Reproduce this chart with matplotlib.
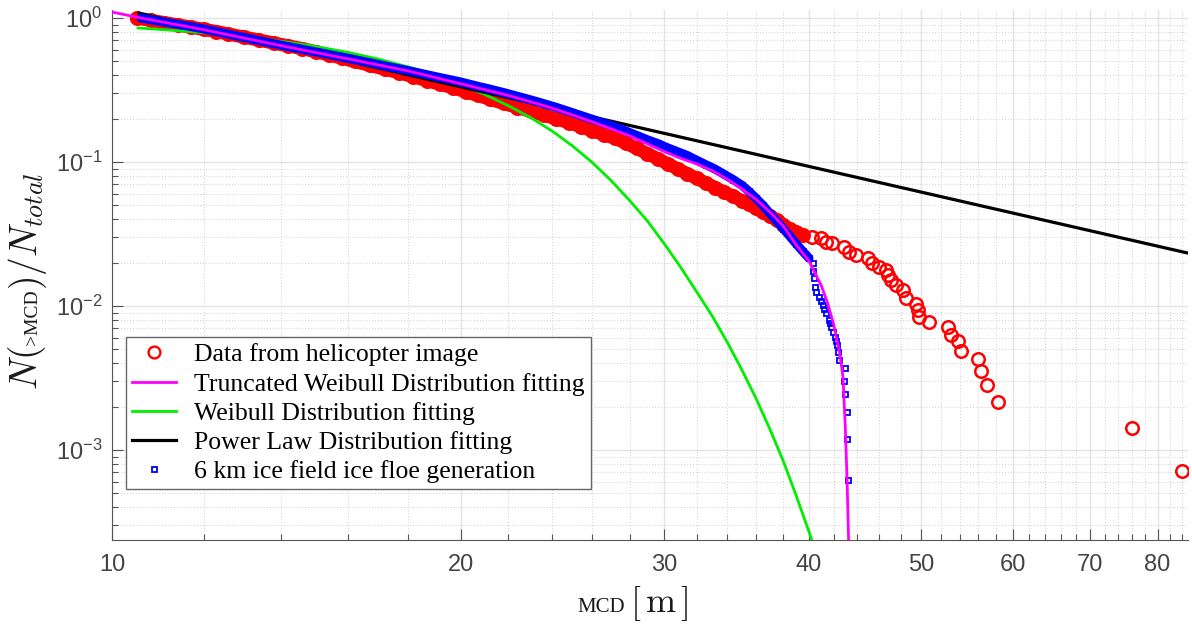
import numpy as np
import matplotlib
matplotlib.use("Agg")
import matplotlib.pyplot as plt
from matplotlib.ticker import FixedLocator, FixedFormatter, LogLocator, NullFormatter
from matplotlib.lines import Line2D
from matplotlib.transforms import IdentityTransform

# ---------------- data ----------------
helo_mcd = [10.5, 10.8, 11.1, 11.4, 11.7, 12.0, 12.3, 12.6, 13.0, 13.4, 13.8, 14.2, 14.6, 15.0, 15.4,
            15.8, 16.2, 16.7, 17.2, 17.7, 18.2, 18.7, 19.2, 19.7, 20.2, 20.7, 21.2, 21.8, 22.4, 23.0,
            23.6, 24.2, 24.8, 25.4, 26.0, 26.6, 27.2, 27.8, 28.4, 29.0, 29.6, 30.2, 30.8, 31.4, 32.0,
            32.6, 33.2, 33.8, 34.4, 35.0, 35.5, 36.0, 36.5, 37.0, 37.5, 38.0, 38.5, 39.0, 39.5,
            40.2, 41.0, 41.4, 41.9, 42.9, 43.3, 43.9, 45.0, 45.3, 46.0, 46.6, 46.8, 47.1, 47.6, 48.2,
            48.5, 49.5, 49.7, 49.8, 50.8, 52.7, 53.1, 53.8, 54.1, 56.0, 56.3, 57.0, 58.2, 76.0, 84.0]
helo_frac = [1.0, 0.963, 0.928, 0.895, 0.864, 0.835, 0.805, 0.775, 0.737, 0.702, 0.670, 0.640, 0.613, 0.584, 0.554,
             0.526, 0.499, 0.469, 0.442, 0.417, 0.392, 0.368, 0.347, 0.328, 0.308, 0.290, 0.273, 0.255, 0.239, 0.2246,
             0.2115, 0.1994, 0.188, 0.176, 0.165, 0.155, 0.146, 0.135, 0.1243, 0.1144, 0.1055, 0.0972, 0.0897, 0.0829, 0.0769,
             0.0714, 0.0664, 0.0618, 0.0577, 0.054, 0.0507, 0.0476, 0.0447, 0.042, 0.0396, 0.0368, 0.0342, 0.0325, 0.0312,
             0.0303, 0.0295, 0.028, 0.0272, 0.0258, 0.0238, 0.0226, 0.0214, 0.0198, 0.0188, 0.0178, 0.0164, 0.0152, 0.014, 0.0129,
             0.0113, 0.0104, 0.0094, 0.0084, 0.0077, 0.0071, 0.0063, 0.0057, 0.0049, 0.0043, 0.00354, 0.00283, 0.00214, 0.00142, 0.00071]

sim_mcd = [10.6, 10.9, 11.2, 11.5, 11.8, 12.1, 12.5, 12.9, 13.3, 13.7, 14.1, 14.5, 15.0, 15.5, 16.0,
           16.5, 17.0, 17.5, 18.0, 18.5, 19.0, 19.5, 20.0, 20.6, 21.2, 21.8, 22.4, 23.0, 23.6, 24.2,
           24.8, 25.4, 26.0, 26.6, 27.2, 27.8, 28.4, 29.0, 29.6, 30.2, 30.8, 31.4, 32.0, 32.6, 33.2,
           33.8, 34.4, 35.0, 35.5, 36.0, 36.5, 37.0, 37.5, 38.0, 38.5, 39.0, 39.5, 40.0,
           40.3, 40.35, 40.4, 40.5, 40.6, 40.8, 40.95, 41.1, 41.25, 41.4, 41.6, 41.7, 41.8, 41.95, 42.1,
           42.2, 42.3, 42.4, 42.5, 42.95, 42.9, 43.0, 43.1, 43.1, 43.2]
sim_frac = [1.0, 0.962, 0.926, 0.892, 0.861, 0.828, 0.784, 0.743, 0.706, 0.671, 0.640, 0.613, 0.581, 0.552, 0.525,
            0.499, 0.475, 0.452, 0.432, 0.412, 0.393, 0.376, 0.360, 0.339, 0.321, 0.3035, 0.286, 0.270, 0.2545, 0.2396,
            0.2247, 0.2107, 0.198, 0.1863, 0.1755, 0.164, 0.1529, 0.1428, 0.1345, 0.1254, 0.1179, 0.111, 0.1028, 0.0956, 0.0891,
            0.082, 0.0755, 0.069, 0.0625, 0.056, 0.050, 0.044, 0.039, 0.0345, 0.0305, 0.027, 0.024, 0.0215,
            0.0198, 0.0175, 0.0156, 0.0136, 0.0126, 0.0116, 0.0109, 0.0102, 0.0095, 0.0089, 0.008, 0.0076, 0.00718, 0.0066, 0.00612,
            0.0057, 0.00536, 0.00482, 0.00422, 0.00369, 0.00303, 0.00245, 0.00183, 0.0012, 0.00062]

tw_mcd = [10.0, 10.6, 12.0, 13.9, 16.0, 18.0, 20.0, 22.0, 24.0, 26.0, 28.0, 30.0, 31.0, 32.0, 33.0,
          34.0, 35.0, 36.0, 37.0, 38.0, 39.0, 40.0, 41.0, 41.5, 42.0, 42.5, 42.8, 43.0, 43.15, 43.3]
tw_frac = [1.1, 1.0, 0.83, 0.65, 0.52, 0.43, 0.35, 0.29, 0.237, 0.19, 0.152, 0.118, 0.106, 0.097, 0.087,
           0.076, 0.065, 0.055, 0.045, 0.036, 0.0265, 0.0205, 0.0138, 0.0105, 0.0075, 0.0048, 0.0032, 0.0014, 0.0006, 0.0002]

wb_mcd = [10.53, 11.0, 11.7, 12.5, 13.5, 14.8, 16.0, 17.0, 18.0, 19.0, 20.0, 21.0, 22.0, 23.0, 24.0,
          25.0, 26.0, 27.0, 28.0, 29.0, 30.0, 31.0, 32.0, 33.0, 34.0, 35.0, 36.0, 37.0, 38.0, 39.0,
          40.0, 40.6]
wb_frac = [0.853, 0.834, 0.804, 0.767, 0.717, 0.646, 0.577, 0.518, 0.459, 0.402, 0.346, 0.294, 0.246, 0.203, 0.164,
           0.129, 0.099, 0.074, 0.054, 0.039, 0.027, 0.0185, 0.0125, 0.0085, 0.0056, 0.0036, 0.00228, 0.0014, 0.00084, 0.00048,
           0.00027, 0.00019]

pl_mcd = [10.55, 85.0]
pl_frac = [1.08, 0.0233]

legend_labels = ["Data from helicopter image",
                 "Truncated Weibull Distribution fitting",
                 "Weibull Distribution fitting",
                 "Power Law Distribution fitting",
                 "6 km ice field ice floe generation"]

xtick_major = [10, 20, 30, 40, 50, 60, 70, 80]
xtick_labels = ["10", "20", "30", "40", "50", "60", "70", "80"]
xtick_minor = list(range(12, 85, 2))
ytick_major = [1e-3, 1e-2, 1e-1, 1e0]
ytick_labels = [r"$\mathregular{10^{-3}}$", r"$\mathregular{10^{-2}}$",
                r"$\mathregular{10^{-1}}$", r"$\mathregular{10^{0}}$"]

# ---------------- figure ----------------
plt.rcParams["mathtext.fontset"] = "cm"
plt.rcParams["font.family"] = ["Liberation Sans", "DejaVu Sans"]

W, H = 1192, 624
fig = plt.figure(figsize=(W / 100, H / 100), dpi=100)
ax = fig.add_axes([112 / W, (H - 540) / H, (1188 - 112) / W, (540 - 10) / H])
ax.set_xscale("log")
ax.set_yscale("log")
ax.set_xlim(10, 85)
ax.set_ylim(2.37e-4, 1.137)

hx = np.array(helo_mcd); hy = np.array(helo_frac)
sx = np.array(sim_mcd); sy = np.array(sim_frac)
hb = hx <= 39.6
sb = sx <= 40.05

ax.plot(hx[hb], hy[hb], color="#ff0000", lw=9.5, solid_capstyle="round", zorder=2)
ax.plot(hx, hy, ls="none", marker="o", ms=9, mfc="none", mec="#ff0000", mew=1.8, zorder=2)
ax.plot(wb_mcd, wb_frac, color="#00ee00", lw=2.0, zorder=3)
ax.plot(pl_mcd, pl_frac, color="black", lw=2.3, zorder=3)
ax.plot(sx[sb], sy[sb], color="#0000ff", lw=6.5, solid_capstyle="round", zorder=4)
ax.plot(sx, sy, ls="none", marker="s", ms=3.6, mfc="none", mec="#0000ff", mew=1.3, zorder=4)
ax.plot(tw_mcd, tw_frac, color="#ff00ff", lw=2.0, zorder=5)

# grid
ax.set_axisbelow(True)
ax.grid(True, which="major", color="#e4e4e4", lw=1.0, ls="-")
ax.grid(True, which="minor", color="#cfcfcf", lw=0.7, ls=(0, (1, 2)))

# ticks
ax.xaxis.set_major_locator(FixedLocator(xtick_major))
ax.xaxis.set_major_formatter(FixedFormatter(xtick_labels))
ax.xaxis.set_minor_locator(FixedLocator([v for v in xtick_minor if v not in xtick_major]))
ax.xaxis.set_minor_formatter(NullFormatter())
ax.yaxis.set_major_locator(FixedLocator(ytick_major))
ax.yaxis.set_major_formatter(FixedFormatter(ytick_labels))
ax.yaxis.set_minor_locator(LogLocator(base=10, subs=range(2, 10)))
ax.yaxis.set_minor_formatter(NullFormatter())
ax.tick_params(which="both", direction="in", color="#555555", width=0.8,
               labelsize=17, labelcolor="#444444")
ax.tick_params(which="major", length=8)
ax.tick_params(which="minor", length=4.5)
ax.tick_params(axis="x", pad=10)
ax.tick_params(axis="y", pad=7)
for s in ["top", "right"]:
    ax.spines[s].set_visible(False)
for s in ["left", "bottom"]:
    ax.spines[s].set_color("#555555")
    ax.spines[s].set_linewidth(0.8)

# legend
handles = [
    Line2D([], [], ls="none", marker="o", ms=8.5, mfc="none", mec="#ff0000", mew=1.7),
    Line2D([], [], color="#ff00ff", lw=2.0),
    Line2D([], [], color="#00ee00", lw=2.0),
    Line2D([], [], color="black", lw=2.3),
    Line2D([], [], ls="none", marker="s", ms=3.6, mfc="none", mec="#0000ff", mew=1.3),
]
leg = ax.legend(handles, legend_labels, loc="upper left",
                bbox_to_anchor=(126 / W, 1 - 337 / H), bbox_transform=fig.transFigure,
                borderaxespad=0, prop={"family": ["Liberation Serif", "DejaVu Serif"], "size": 18.5},
                fancybox=False, framealpha=1, edgecolor="#666666",
                handlelength=1.7, handletextpad=0.7, borderpad=0.25, labelspacing=0.24)
leg.get_frame().set_linewidth(1.0)

# axis labels composed of pieces of different sizes
fig.canvas.draw()
renderer = fig.canvas.get_renderer()


def place_pieces(pieces, x0, y0, vertical=False):
    pos = y0 if vertical else x0
    for s, kw in pieces:
        if vertical:
            t = fig.text(x0, pos, s, transform=IdentityTransform(), rotation=90,
                         rotation_mode="anchor", ha="left", va="baseline", color="#1a1a1a", **kw)
            pos += t.get_window_extent(renderer).height
        else:
            t = fig.text(pos, y0, s, transform=IdentityTransform(),
                         ha="left", va="baseline", color="#1a1a1a", **kw)
            pos += t.get_window_extent(renderer).width


serif = ["Liberation Serif", "DejaVu Serif"]
place_pieces([("MCD", dict(family=serif, size=15)),
              (r"$\,[\,\mathrm{m}\,]$", dict(size=26))], 577, H - 612)
place_pieces([(r"$N($", dict(size=27)),
              (">MCD", dict(family=serif, size=14)),
              (r"$)/N_{total}$", dict(size=27))], 37, H - 390, vertical=True)

fig.savefig("out.png", dpi=100)
